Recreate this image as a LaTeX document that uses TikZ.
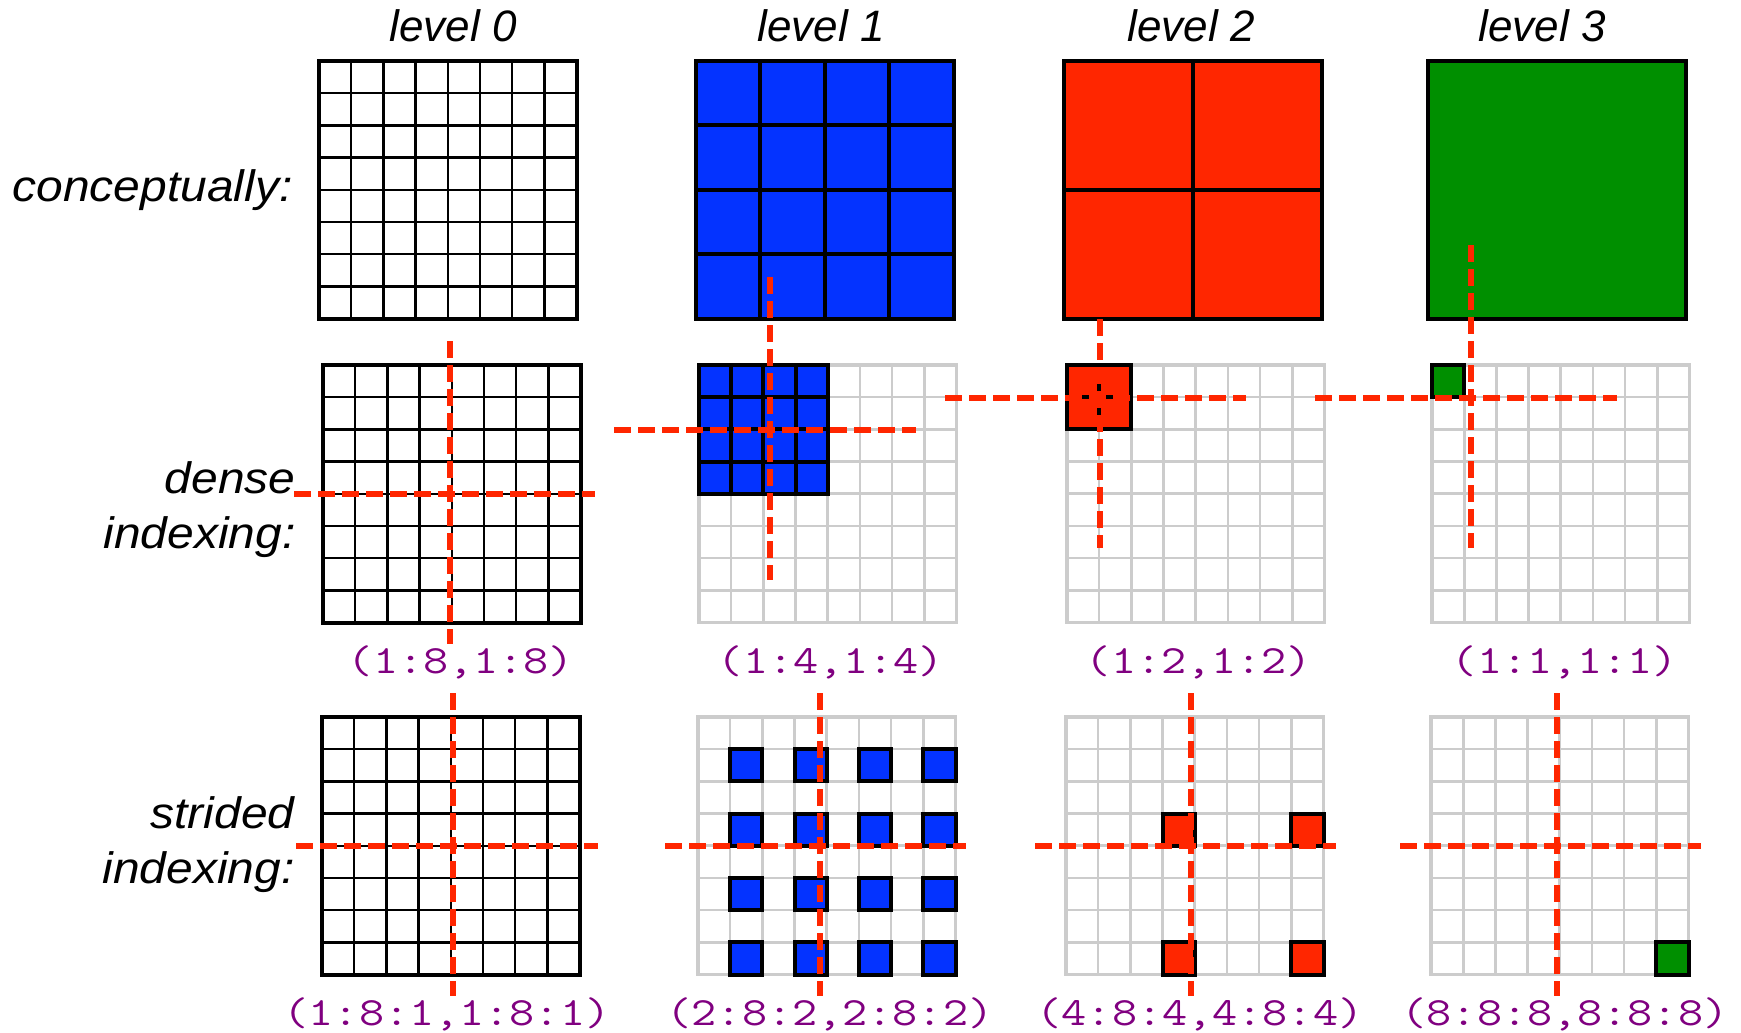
\documentclass[tikz,border=0pt]{standalone}
\usepackage{fontspec}
\setsansfont{Liberation Sans}
\newfontfamily\widesans{Liberation Sans}[FakeStretch=1.09]

\definecolor{cellblue}{HTML}{0433FF}
\definecolor{cellred}{HTML}{FF2600}
\definecolor{cellgreen}{HTML}{008F00}
\definecolor{paleline}{HTML}{CCCCCC}
\definecolor{plum}{HTML}{800080}

\tikzset{
  coltitle/.style={font=\fontsize{22}{27.5}\selectfont\sffamily\itshape, inner sep=0pt},
  rowtitle/.style={font=\fontsize{22}{27.5}\selectfont\widesans\itshape, inner sep=0pt},
  idxtext/.style={font=\fontsize{20}{24}\selectfont\ttfamily, text=plum, inner sep=0pt},
  redcross/.style={draw=cellred, line width=2.8pt, dash pattern=on 8.5pt off 3.5pt},
  inkthin/.style={draw=black, line width=1.2pt},
  inkthick/.style={draw=black, line width=2pt},
  palethin/.style={draw=paleline, line width=1.3pt},
  palethick/.style={draw=paleline, line width=1.8pt},
}

% index text, Courier-like width
\newcommand{\idxbox}[1]{\scalebox{1.22}[1]{#1}}

% n x n block: corner x, corner y, cells per side, side, fill, inner lines, border
\newcommand{\cellgrid}[7]{%
  \fill[#5] (#1,#2) rectangle ++(#4,#4);
  \foreach \k in {1,...,#3} {
    \draw[#6] ({#1+\k*#4/#3},#2) -- ++(0,#4);
    \draw[#6] (#1,{#2+\k*#4/#3}) -- ++(#4,0);
  }
  \draw[#7] (#1,#2) rectangle ++(#4,#4);
}

% one picked cell: grid corner x, y, column, row, colour
\newcommand{\hicell}[5]{%
  \draw[inkthick, fill=#5] ({#1+#3*32.19},{#2+#4*32.19}) rectangle ++(32.19,32.19);
}

% dashed cross: vertical at x #1 from #2 to #3, horizontal at y #4 from #5 to #6
\newcommand{\crosshair}[6]{%
  \draw[redcross] (#1,#2) -- (#1,#3);
  \draw[redcross] (#5,#4) -- (#6,#4);
}

\begin{document}
\begin{tikzpicture}[x=0.5pt, y=-0.5pt]
\useasboundingbox (0,0) rectangle (1741,1033);

% Column titles
\node[coltitle, anchor=base] (lvl0) at (453,41) {level 0};
\node[coltitle, anchor=base] (lvl1) at (821,41) {level 1};
\node[coltitle, anchor=base] (lvl2) at (1191,41) {level 2};
\node[coltitle, anchor=base] (lvl3) at (1542,41) {level 3};

% Row titles
\node[rowtitle, anchor=base east] (concept) at (293,201) {conceptually:};
\node[rowtitle, anchor=base east, align=right] (dense) at (296,548) {dense\\indexing:};
\node[rowtitle, anchor=base east, align=right] (strided) at (295,883) {strided\\indexing:};

%--------------------------------------------------
% Conceptually
%--------------------------------------------------
\cellgrid{319}{61}{8}{257.5}{white}{inkthin}{inkthick}
\cellgrid{696}{61}{4}{257.5}{cellblue}{inkthick}{inkthick}
\cellgrid{1064}{61}{2}{257.5}{cellred}{inkthick}{inkthick}
\cellgrid{1428}{61}{1}{257.5}{cellgreen}{inkthick}{inkthick}

%--------------------------------------------------
% Dense indexing
%--------------------------------------------------
\cellgrid{323}{365}{8}{257.5}{white}{inkthin}{inkthick}

\cellgrid{699}{365}{8}{257.5}{white}{palethin}{palethick}
\cellgrid{699}{365}{4}{128.75}{cellblue}{inkthick}{inkthick}

\cellgrid{1067}{365}{8}{257.5}{white}{palethin}{palethick}
\cellgrid{1067}{365}{2}{64.4}{cellred}{inkthick}{inkthick}

\cellgrid{1432}{365}{8}{257.5}{white}{palethin}{palethick}
\cellgrid{1432}{365}{1}{32.19}{cellgreen}{inkthick}{inkthick}

%--------------------------------------------------
% Strided indexing
%--------------------------------------------------
\cellgrid{322}{717}{8}{257.5}{white}{inkthin}{inkthick}

\cellgrid{698}{717}{8}{257.5}{white}{palethin}{palethick}
\foreach \i in {1,3,5,7} \foreach \j in {1,3,5,7} {\hicell{698}{717}{\i}{\j}{cellblue}}

\cellgrid{1066}{717}{8}{257.5}{white}{palethin}{palethick}
\foreach \i in {3,7} \foreach \j in {3,7} {\hicell{1066}{717}{\i}{\j}{cellred}}

\cellgrid{1431}{717}{8}{257.5}{white}{palethin}{palethick}
\hicell{1431}{717}{7}{7}{cellgreen}

% Index ranges
\node[idxtext, anchor=base] (d0) at (461,673) {\idxbox{(1:8,1:8)}};
\node[idxtext, anchor=base] (d1) at (831,673) {\idxbox{(1:4,1:4)}};
\node[idxtext, anchor=base] (d2) at (1199,673) {\idxbox{(1:2,1:2)}};
\node[idxtext, anchor=base] (d3) at (1565,673) {\idxbox{(1:1,1:1)}};

\node[idxtext, anchor=base] (s0) at (447,1025) {\idxbox{(1:8:1,1:8:1)}};
\node[idxtext, anchor=base] (s1) at (830,1025) {\idxbox{(2:8:2,2:8:2)}};
\node[idxtext, anchor=base] (s2) at (1200,1025) {\idxbox{(4:8:4,4:8:4)}};
\node[idxtext, anchor=base] (s3) at (1565,1025) {\idxbox{(8:8:8,8:8:8)}};

% Dashed crosses
\crosshair{450}{341}{644}{494}{294}{595}
\crosshair{770}{277}{580}{430}{614}{916}
\crosshair{1100}{247}{548}{398}{945}{1246}
\crosshair{1471}{245}{548}{398}{1315}{1617}

\crosshair{453}{693}{996}{846}{296}{598}
\crosshair{820}{693}{996}{846}{665}{966}
\crosshair{1191}{693}{996}{846}{1035}{1336}
\crosshair{1557}{693}{996}{846}{1400}{1701}

\end{tikzpicture}
\end{document}
